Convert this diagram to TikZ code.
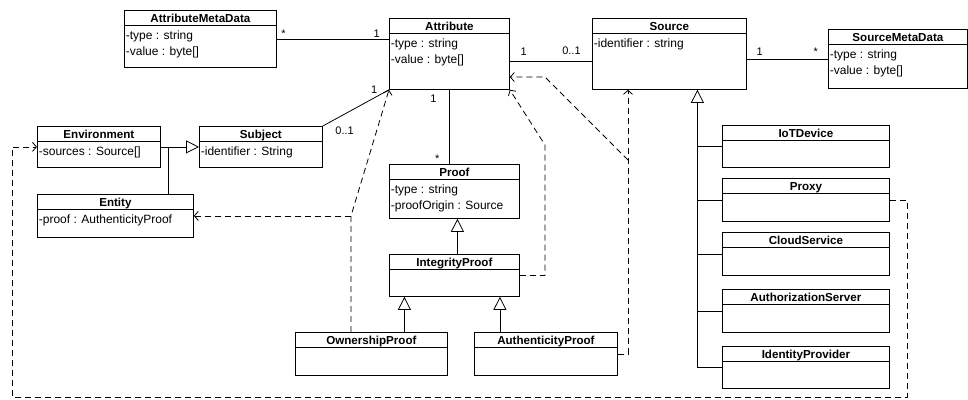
\documentclass[tikz,border=0pt]{standalone}
\usepackage{fontspec}
\setmainfont{Liberation Sans}
\usetikzlibrary{arrows.meta,positioning}

\tikzset{
  classbox/.style={draw, anchor=north west, inner sep=0pt},
  classtitle/.style={anchor=base, inner sep=0pt, font=\fontsize{11.6}{16}\selectfont\bfseries},
  classattrs/.style={anchor=north west, inner sep=0pt, align=left, font=\fontsize{12}{16.5}\selectfont},
  gen/.style={-{Triangle[open,length=13pt,width=13pt]}},
  dep/.style={-{Straight Barb[length=4pt,width=9pt]}, dash pattern=on 6pt off 4pt},
  mult/.style={font=\fontsize{11}{13}\selectfont, inner sep=1.5pt}
}

% class box: name, corner, width, height, title, attributes
\newcommand{\umlclass}[6]{%
  \draw #2 node [classbox, minimum width=#3pt, minimum height=#4pt] (#1) {};
  \node [classtitle] (#1-title) at ([yshift=-12pt]#1.north) {#5};
  \draw ([yshift=-15pt]#1.north west) -- ([yshift=-15pt]#1.north east);
  \node [classattrs] (#1-attrs) at ([xshift=1.5pt,yshift=-17.5pt]#1.north west) {\strut #6};
}

\begin{document}
\begin{tikzpicture}[x=1pt, y=-1pt, line width=0.8pt, font=\fontsize{11.5}{16}\selectfont]
		\useasboundingbox (0,0) rectangle (968,399);

		\umlclass{amd}{(124,10)}{152}{57}{AttributeMetaData}{-type : string\\-value : byte[]}
		\umlclass{attr}{(389,18)}{120}{71}{Attribute}{-type : string\\-value : byte[]}
		\umlclass{src}{(592,18)}{154}{71}{Source}{-identifier : string}
		\umlclass{smd}{(828,29)}{139}{59}{SourceMetaData}{-type : string\\-value : byte[]}
		\umlclass{env}{(37,126)}{123}{41}{Environment}{-sources : Source[]}
		\umlclass{subj}{(199,126)}{123}{41}{Subject}{-identifier : String}
		\umlclass{ent}{(37,194)}{156}{43}{Entity}{-proof : AuthenticityProof}
		\umlclass{proof}{(389,164)}{130}{54}{Proof}{-type : string\\-proofOrigin : Source}
		\umlclass{ip}{(389,254)}{130}{42}{IntegrityProof}{}
		\umlclass{op}{(295,332)}{152}{43}{OwnershipProof}{}
		\umlclass{ap}{(474,332)}{143}{43}{AuthenticityProof}{}
		\umlclass{iot}{(722,125)}{167}{42}{IoTDevice}{}
		\umlclass{proxy}{(722,178)}{167}{43}{Proxy}{}
		\umlclass{cloud}{(722,232)}{167}{43}{CloudService}{}
		\umlclass{auth}{(722,289)}{167}{43}{AuthorizationServer}{}
		\umlclass{idp}{(722,346)}{167}{42}{IdentityProvider}{}

		% associations
		\draw
			(amd.east) edge node [mult, pos=0.06, above] (m1) {*} node [mult, pos=0.89, above] (m2) {1} (amd.east -| attr.west)
			([yshift=-43pt]attr.north east) edge node [mult, pos=0.17, above=4pt] (m3) {1} node [mult, pos=0.75, above=4pt] (m4) {0..1} ([yshift=-43pt]src.north west)
			(smd.west -| src.east) edge node [mult, pos=0.16, above=2pt] (m5) {1} node [mult, pos=0.85, above=2pt] (m6) {*} (smd.west)
			(subj.north east) edge node [mult, pos=0.85, above left] (m7) {1} node [mult, pos=0.12, below right=4pt] (m8) {0..1} (attr.south west)
			(attr.south) edge node [mult, pos=0.12, left=11pt] (m9) {1} node [mult, pos=0.93, left=8pt] (m10) {*} (attr.south |- proof.north)
		;

		% generalizations
		\coordinate (envjoin) at ([xshift=8pt]env.east);
		\draw [gen] (env.east) -- (env.east -| subj.west);
		\draw (envjoin) -- (envjoin |- ent.north);
		\draw [gen] ([xshift=3pt]ip.north) -- ([xshift=3pt]ip.north |- proof.south);
		\draw [gen] ([xshift=33pt]op.north) -- ([xshift=33pt]op.north |- ip.south);
		\draw [gen] ([xshift=-46pt]ap.north) -- ([xshift=-46pt]ap.north |- ip.south);

		\coordinate (srctrunk) at ([xshift=28pt]src.south);
		\draw [gen] (srctrunk |- idp.west) -- (srctrunk);
		\draw (iot.west) -- (iot.west -| srctrunk);
		\draw (proxy.west) -- (proxy.west -| srctrunk);
		\draw (cloud.west) -- (cloud.west -| srctrunk);
		\draw (auth.west) -- (auth.west -| srctrunk);
		\draw (idp.west) -- (idp.west -| srctrunk);

		% dependencies
		\coordinate (opbend) at ([xshift=56pt]op.north west |- ent.east);
		\draw [dep] ([xshift=56pt]op.north west) -- (opbend) -- (attr.south west);
		\draw [dep] (opbend) -- (ent.east);

		\coordinate (ipbend) at (545,145);
		\draw [dep] (ip.east) -| (ipbend) -- (attr.south east);

		\coordinate (apbend) at (628,160);
		\coordinate (apkink) at (545,77);
		\draw [dep] (ap.east) -| (apbend) -- (apbend |- src.south);
		\draw [dep] (apbend) -- (apkink) -- (apkink -| attr.east);

		\coordinate (pxright) at (907,397);
		\coordinate (pxleft) at (12,397);
		\draw [dep] (proxy.east) -| (pxright) -- (pxleft) |- (env.west);
	\end{tikzpicture}
\end{document}
